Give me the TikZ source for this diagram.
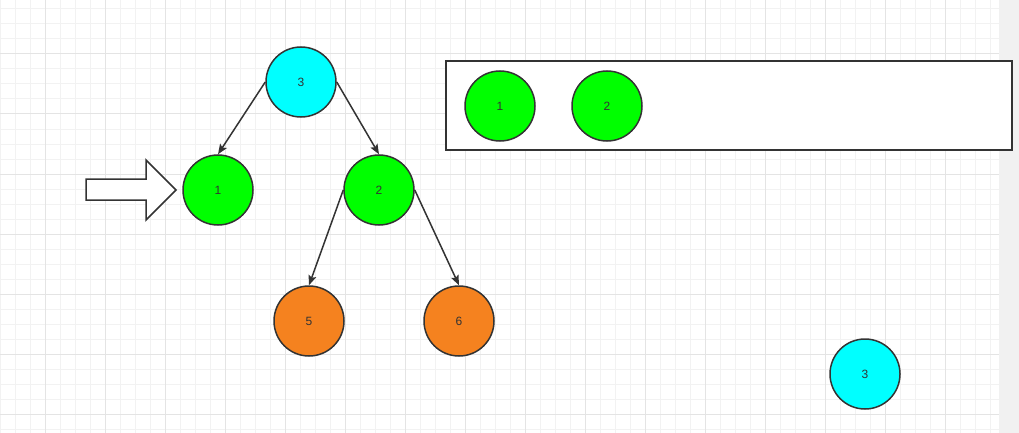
\documentclass[tikz,border=0pt]{standalone}
\usepackage{fontspec}
\setmainfont{Liberation Sans}
\usepackage{tikz}
\usetikzlibrary{arrows.meta,positioning}
\definecolor{gridminor}{HTML}{F2F2F2}
\definecolor{gridmajor}{HTML}{E4E4E4}
\definecolor{sidestrip}{HTML}{F1F1F1}
\definecolor{inkgray}{HTML}{333333}
\definecolor{nodecyan}{HTML}{00FFFF}
\definecolor{nodegreen}{HTML}{00FF00}
\definecolor{nodeorange}{HTML}{F5821F}

\begin{document}
\begin{tikzpicture}[x=1pt,y=-1pt,
    bnode/.style={circle,draw=inkgray,line width=1.5pt,minimum size=70pt,
        inner sep=0pt,text=inkgray,font=\fontsize{12}{14}\selectfont},
    bedge/.style={-{Stealth[length=10pt,width=8pt,inset=2pt]},draw=inkgray,line width=1.5pt},
    bqueue/.style={draw=inkgray,line width=1.5pt,fill=white,
        minimum width=566pt,minimum height=89pt,inner sep=0pt}
]
\useasboundingbox (0,0) rectangle (1019,433);
% background grid
\fill[white] (0,0) rectangle (999,433);
\fill[sidestrip] (999,0) rectangle (1019,433);
\foreach \gx in {0,15,...,990}
    \draw[gridminor,line width=1pt] (\gx,0)--(\gx,433);
\foreach \gy in {9,24,...,429}
    \draw[gridminor,line width=1pt] (0,\gy)--(999,\gy);
\foreach \gx in {45,105,...,990}
    \draw[gridmajor,line width=1pt] (\gx,0)--(\gx,433);
\foreach \gy in {54,114,...,429}
    \draw[gridmajor,line width=1pt] (0,\gy)--(999,\gy);
% tree
\node[bnode,fill=nodecyan] (root) at (301,82) {3};
\node[bnode,fill=nodegreen] (left) at (218,190) {1};
\node[bnode,fill=nodegreen] (right) at (379,190) {2};
\node[bnode,fill=nodeorange] (rleft) at (309,321) {5};
\node[bnode,fill=nodeorange] (rright) at (459,321) {6};
\draw[bedge] (root.west)--(left.north);
\draw[bedge] (root.east)--(right.north);
\draw[bedge] (right.west)--(rleft.north);
\draw[bedge] (right.east)--(rright.north);
% pointer arrow
\draw[inkgray,line width=1.5pt,fill=white,line join=miter]
    (86,179)--(146,179)--(146,160)--(176,190)--(146,220)--(146,200)--(86,200)--cycle;
% queue box
\node[bqueue] (queue) at (729,105.5) {};
\node[bnode,fill=nodegreen] (qfirst) at (500,106) {1};
\node[bnode,fill=nodegreen] (qsecond) at (607,106) {2};
% popped node
\node[bnode,fill=nodecyan] (popped) at (865,374) {3};
\end{tikzpicture}
\end{document}
